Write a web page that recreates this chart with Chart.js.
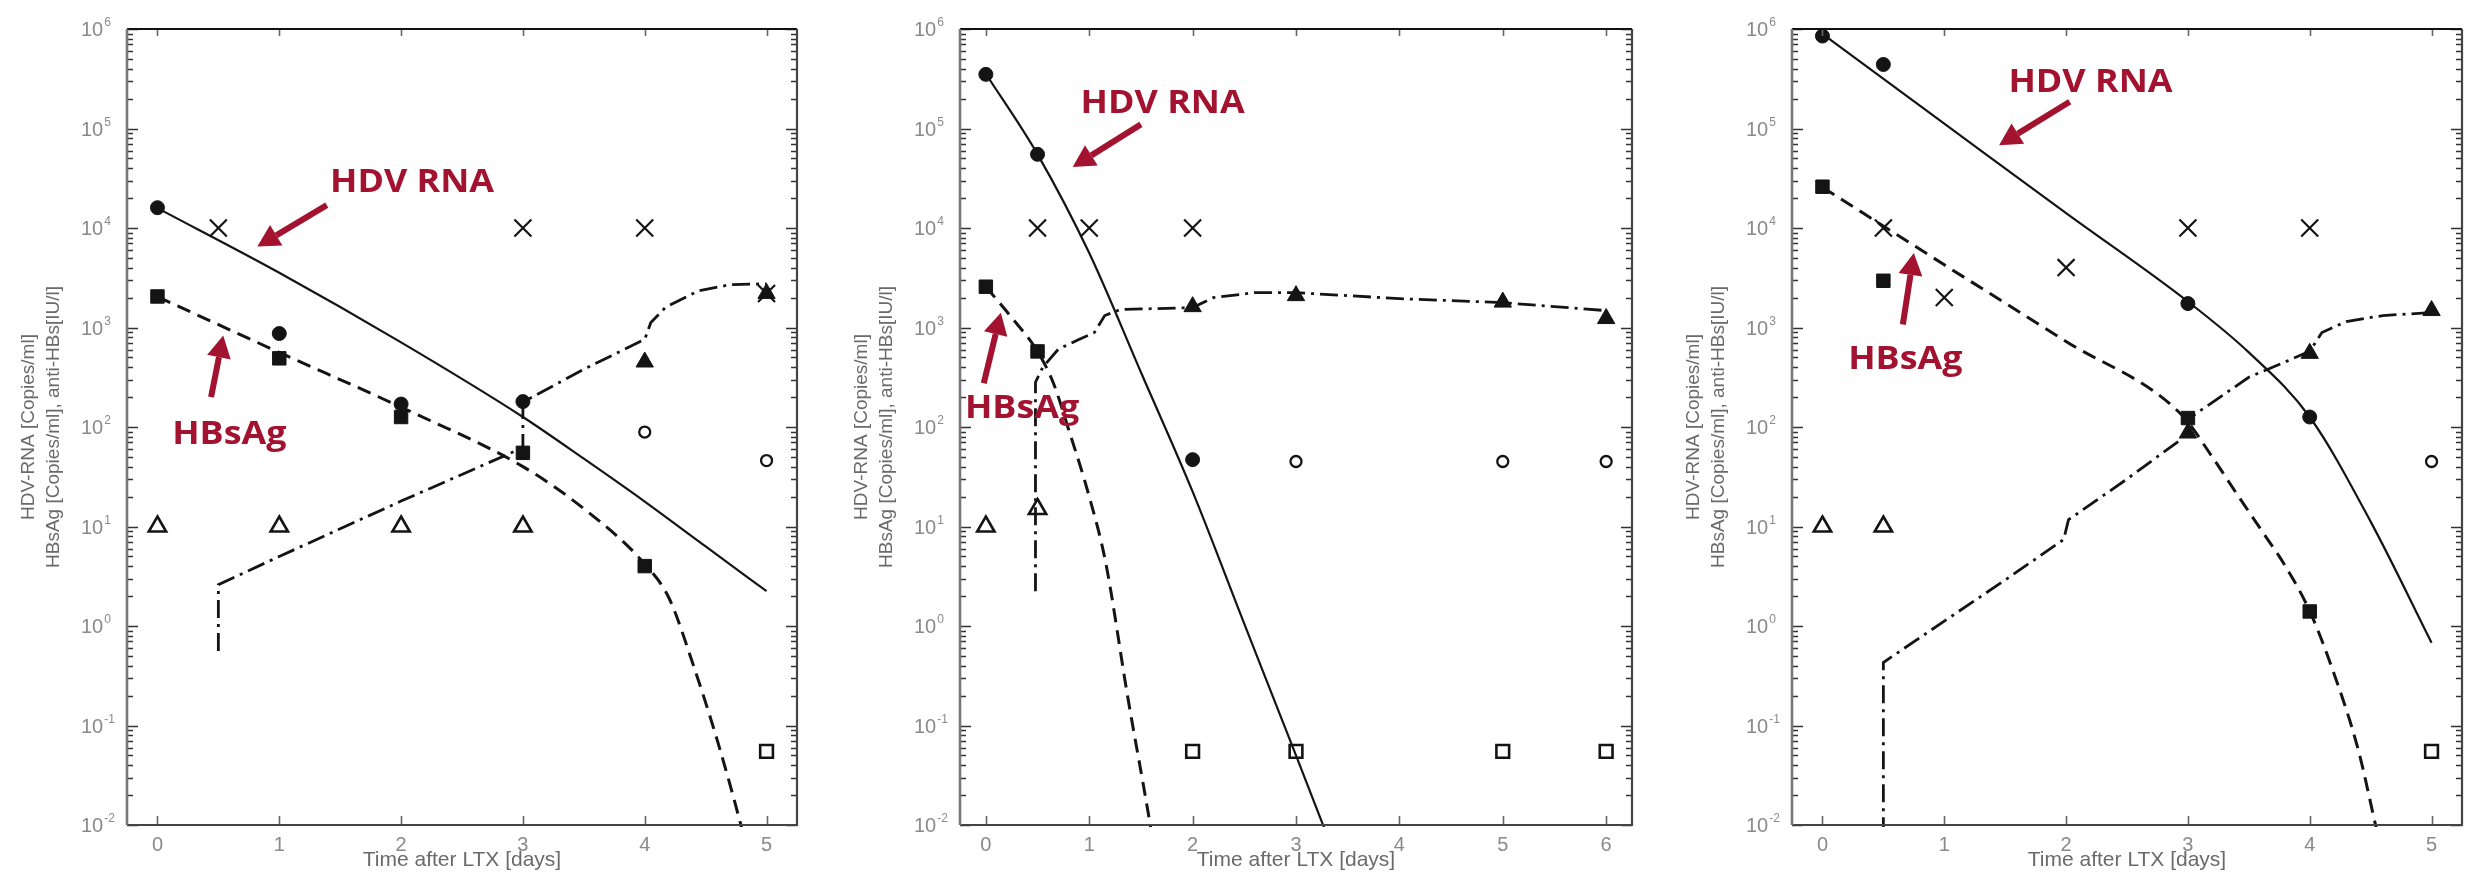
<!DOCTYPE html>
<html>
<head>
<meta charset="utf-8">
<script src="https://cdn.jsdelivr.net/npm/chart.js@4.4.1/dist/chart.umd.min.js"></script>
<style>
  html, body { margin: 0; padding: 0; background: #fff; }
  #wrap { position: relative; width: 2473px; height: 882px; overflow: hidden; }
  #wrap canvas { position: absolute; left: 0; top: 0; }
</style>
</head>
<body>
<div id="wrap">
  <canvas id="left" width="2473" height="882"></canvas>
  <canvas id="mid" width="2473" height="882"></canvas>
  <canvas id="right" width="2473" height="882"></canvas>
</div>
<script>
// ---- left panel (days 0-5)
const aCircDays = [0, 1, 2, 3];
const aCircVals = [16000, 870, 170, 180];
const aSqDays = [0, 1, 2, 3, 4];
const aSqVals = [2050, 490, 126, 55, 4.0];
const aCrossDays = [0.5, 3, 4, 5];
const aCrossVals = [10000, 10000, 10000, 2200];
const aOpenTriDays = [0, 1, 2, 3];
const aOpenTriVals = [10, 10, 10, 10];
const aTriDays = [4, 5];
const aTriVals = [450, 2200];
const aOpenCircDays = [4, 5];
const aOpenCircVals = [89, 46];
const aOpenSqDays = [5];
const aOpenSqVals = [0.055];
const aRnaFitDays = [0, 1, 2, 3, 3.5, 4, 4.5, 5];
const aRnaFit = [15850, 3550, 708, 126, 48, 17.8, 6.3, 2.24];
const aHbsFitDays = [0, 1, 2, 3, 3.5, 4, 4.2, 4.4, 4.6, 4.8, 4.85];
const aHbsFit = [2040, 562, 158, 40, 15.1, 4.2, 1.9, 0.4, 0.068, 0.0089, 0.005];
const aAntiFitDays = [0.5, 0.5, 1, 2, 3, 3, 3.5, 4, 4.05, 4.17, 4.44, 4.7, 5];
const aAntiFit = [0.56, 2.6, 5.0, 18, 62, 178, 380, 760, 1120, 1590, 2340, 2690, 2750];

// ---- middle panel (days 0-6)
const bCircDays = [0, 0.5, 2];
const bCircVals = [350000, 55000, 47];
const bSqDays = [0, 0.5];
const bSqVals = [2570, 575];
const bCrossDays = [0.5, 1, 2];
const bCrossVals = [10000, 10000, 10000];
const bOpenTriDays = [0, 0.5];
const bOpenTriVals = [10, 15];
const bTriDays = [2, 3, 5, 6];
const bTriVals = [1620, 2090, 1800, 1230];
const bOpenCircDays = [3, 5, 6];
const bOpenCircVals = [45, 45, 45];
const bOpenSqDays = [2, 3, 5, 6];
const bOpenSqVals = [0.055, 0.055, 0.055, 0.055];
const bRnaFitDays = [0, 0.5, 1, 1.5, 2, 2.5, 3, 3.3];
const bRnaFit = [355000, 55000, 5600, 355, 22.4, 1.05, 0.05, 0.0079];
const bHbsFitDays = [0, 0.25, 0.5, 0.65, 0.8, 1.0, 1.16, 1.37, 1.59, 1.62];
const bHbsFit = [2570, 1260, 575, 282, 95, 20, 4.3, 0.2, 0.01, 0.0063];
const bAntiFitDays = [0.48, 0.48, 0.55, 0.7, 0.9, 1.05, 1.15, 1.3, 2.0, 2.2, 2.6, 3.0, 4.0, 5.0, 6.0];
const bAntiFit = [2.24, 282, 398, 603, 759, 891, 1318, 1514, 1585, 1995, 2239, 2239, 1950, 1778, 1479];

// ---- right panel (days 0-5)
const cCircDays = [0, 0.5, 3, 4];
const cCircVals = [850000, 440000, 1740, 126];
const cSqDays = [0, 0.5, 3, 4];
const cSqVals = [26000, 2950, 123, 1.4];
const cCrossDays = [0.5, 1, 2, 3, 4];
const cCrossVals = [10000, 2000, 4000, 10000, 10000];
const cOpenTriDays = [0, 0.5];
const cOpenTriVals = [10, 10];
const cTriDays = [3, 4, 5];
const cTriVals = [87, 550, 1480];
const cOpenCircDays = [5];
const cOpenCircVals = [45];
const cOpenSqDays = [5];
const cOpenSqVals = [0.055];
const cRnaFitDays = [0, 1, 2, 3, 3.5, 4, 4.5, 5];
const cRnaFit = [891000, 112000, 14100, 1820, 562, 126, 11.2, 0.68];
const cHbsFitDays = [0, 1, 2, 2.95, 3.2, 3.4, 3.6, 3.8, 4, 4.2, 4.4, 4.55, 4.6];
const cHbsFit = [25700, 4270, 724, 132, 50, 21.4, 9.3, 4.0, 1.41, 0.33, 0.056, 0.0089, 0.005];
const cAntiFitDays = [0.5, 0.5, 1, 1.5, 1.98, 2.02, 2.5, 2.95, 3.05, 3.5, 4, 4.1, 4.3, 4.6, 5];
const cAntiFit = [0.0079, 0.43, 1.12, 2.9, 7.4, 11.7, 30, 76, 132, 316, 575, 891, 1148, 1318, 1413];

// red call-outs, in data coordinates (day, value)
const aNotes = [
  { text: 'HDV RNA', x: 2.09, y: 30000, tail: [1.39, 17000], tip: [0.82, 6500] },
  { text: 'HBsAg', x: 0.59, y: 87, tail: [0.44, 200], tip: [0.54, 830] }
];
const bNotes = [
  { text: 'HDV RNA', x: 1.71, y: 185000, tail: [1.50, 110000], tip: [0.84, 41000] },
  { text: 'HBsAg', x: 0.35, y: 160, tail: [-0.02, 275], tip: [0.145, 1410] }
];
const cNotes = [
  { text: 'HDV RNA', x: 2.2, y: 300000, tail: [2.03, 186000], tip: [1.45, 68000] },
  { text: 'HBsAg', x: 0.68, y: 490, tail: [0.66, 1070], tip: [0.75, 5600] }
];

const INK = '#141414';
const RED = '#a3122f';
const GREY_TXT = '#8a8a8a';
const SANS = '"Liberation Sans", Arial, sans-serif';

function pts(xs, ys) {
  return xs.map((x, i) => ({ x: x, y: ys[i] }));
}

function marks(xs, ys, style, filled, r, bw) {
  return {
    data: pts(xs, ys),
    pointStyle: style,
    pointRadius: r,
    pointBackgroundColor: filled ? INK : 'rgba(0,0,0,0)',
    pointBorderColor: INK,
    pointBorderWidth: bw,
    showLine: false,
    order: 0,
    clip: false
  };
}

// smooth = monotone cubic (only for curves whose x values strictly increase)
function fit(xs, ys, dash, w, smooth) {
  const ds = {
    data: pts(xs, ys),
    showLine: true,
    borderColor: INK,
    borderWidth: w,
    borderDash: dash,
    pointRadius: 0,
    tension: 0,
    order: 1,
    clip: 2
  };
  if (smooth) ds.cubicInterpolationMode = 'monotone';
  return ds;
}

function arrow(ctx, x1, y1, x2, y2) {
  const ang = Math.atan2(y2 - y1, x2 - x1);
  const hl = 22, hw = 12;
  const bx = x2 - hl * Math.cos(ang), by = y2 - hl * Math.sin(ang);
  ctx.lineWidth = 6;
  ctx.beginPath();
  ctx.moveTo(x1, y1);
  ctx.lineTo(bx, by);
  ctx.stroke();
  ctx.beginPath();
  ctx.moveTo(x2, y2);
  ctx.lineTo(bx + hw * Math.sin(ang), by - hw * Math.cos(ang));
  ctx.lineTo(bx - hw * Math.sin(ang), by + hw * Math.cos(ang));
  ctx.closePath();
  ctx.fill();
}

// MATLAB-like box with inward ticks, plus labels and call-outs
function framePlugin(maxDay, notes) {
  return {
    id: 'frame',
    afterDatasetsDraw(chart) {
      const { ctx, chartArea: a, scales: { x, y } } = chart;
      ctx.save();
      ctx.strokeStyle = '#333';
      ctx.lineWidth = 1.6;
      ctx.beginPath();
      for (let e = -2; e <= 6; e++) {
        const py = Math.round(y.getPixelForValue(Math.pow(10, e))) + 0.5;
        ctx.moveTo(a.left, py); ctx.lineTo(a.left + 11, py);
        ctx.moveTo(a.right, py); ctx.lineTo(a.right - 11, py);
        if (e < 6) {
          for (let k = 2; k <= 9; k++) {
            const my = Math.round(y.getPixelForValue(k * Math.pow(10, e))) + 0.5;
            ctx.moveTo(a.left, my); ctx.lineTo(a.left + 6, my);
            ctx.moveTo(a.right, my); ctx.lineTo(a.right - 6, my);
          }
        }
      }
      ctx.stroke();

      ctx.strokeStyle = '#666';
      ctx.beginPath();
      for (let d = 0; d <= maxDay; d++) {
        const px = Math.round(x.getPixelForValue(d)) + 0.5;
        ctx.moveTo(px, a.bottom); ctx.lineTo(px, a.bottom - 9);
        ctx.moveTo(px, a.top); ctx.lineTo(px, a.top + 7);
      }
      ctx.stroke();

      // box
      ctx.lineWidth = 2.2;
      ctx.strokeStyle = '#111';
      ctx.beginPath(); ctx.moveTo(a.left, a.top); ctx.lineTo(a.right, a.top); ctx.stroke();
      ctx.strokeStyle = '#444';
      ctx.beginPath(); ctx.moveTo(a.right, a.top); ctx.lineTo(a.right, a.bottom); ctx.lineTo(a.left, a.bottom); ctx.stroke();
      ctx.strokeStyle = '#777';
      ctx.lineWidth = 2.6;
      ctx.beginPath(); ctx.moveTo(a.left, a.top); ctx.lineTo(a.left, a.bottom); ctx.stroke();

      // y tick labels 10^n
      ctx.fillStyle = GREY_TXT;
      ctx.textAlign = 'left';
      ctx.textBaseline = 'alphabetic';
      for (let e = -2; e <= 6; e++) {
        const py = y.getPixelForValue(Math.pow(10, e));
        ctx.font = '20px ' + SANS;
        ctx.fillText('10', a.left - 46, py + 7);
        const w = ctx.measureText('10').width;
        ctx.font = '12px ' + SANS;
        ctx.fillText(String(e), a.left - 46 + w + 1, py - 3);
      }

      // x tick labels
      ctx.font = '20px ' + SANS;
      ctx.textAlign = 'center';
      for (let d = 0; d <= maxDay; d++) {
        ctx.fillText(String(d), x.getPixelForValue(d), a.bottom + 26);
      }

      // axis titles
      ctx.fillStyle = '#6a6a6a';
      ctx.font = '21px ' + SANS;
      ctx.fillText('Time after LTX [days]', (a.left + a.right) / 2, a.bottom + 41);
      const yc = (a.top + a.bottom) / 2;
      ctx.font = '19px ' + SANS;
      ctx.save();
      ctx.translate(a.left - 93, yc);
      ctx.rotate(-Math.PI / 2);
      ctx.fillText('HDV-RNA [Copies/ml]', 0, 0);
      ctx.restore();
      ctx.save();
      ctx.translate(a.left - 68, yc);
      ctx.rotate(-Math.PI / 2);
      ctx.fillText('HBsAg [Copies/ml], anti-HBs[IU/l]', 0, 0);
      ctx.restore();
      ctx.restore();
    },
    afterDraw(chart) {
      const { ctx, scales: { x, y } } = chart;
      ctx.save();
      ctx.fillStyle = RED;
      ctx.strokeStyle = RED;
      notes.forEach(n => {
        arrow(ctx, x.getPixelForValue(n.tail[0]), y.getPixelForValue(n.tail[1]),
          x.getPixelForValue(n.tip[0]), y.getPixelForValue(n.tip[1]));
        ctx.save();
        ctx.translate(x.getPixelForValue(n.x), y.getPixelForValue(n.y));
        ctx.scale(1.12, 1);
        ctx.font = 'bold 32px "Open Sans", sans-serif';
        ctx.textAlign = 'center';
        ctx.textBaseline = 'alphabetic';
        ctx.fillText(n.text, 0, 11);
        ctx.restore();
      });
      ctx.restore();
    }
  };
}

function makePanel(id, area, maxDay, xMax, d, notes) {
  return new Chart(document.getElementById(id), {
    type: 'scatter',
    data: {
      datasets: [
        marks(d.circDays, d.circVals, 'circle', true, 7, 1),
        marks(d.sqDays, d.sqVals, 'rect', true, 9.5, 1),
        marks(d.crossDays, d.crossVals, 'crossRot', false, 12, 2.2),
        marks(d.openTriDays, d.openTriVals, 'triangle', false, 10, 2.6),
        marks(d.triDays, d.triVals, 'triangle', true, 10, 1),
        marks(d.openCircDays, d.openCircVals, 'circle', false, 5.5, 2.3),
        marks(d.openSqDays, d.openSqVals, 'rect', false, 9, 2.6),
        fit(d.rnaDays, d.rna, [], 2.2, true),
        fit(d.hbsDays, d.hbs, [14, 8], 3, true),
        fit(d.antiDays, d.anti, [18, 6, 3, 6], 2.8, false)
      ]
    },
    options: {
      responsive: false,
      animation: false,
      events: [],
      layout: { autoPadding: false, padding: { left: area[0], right: 2473 - area[1], top: 29, bottom: 882 - 825 } },
      plugins: { legend: { display: false }, tooltip: { enabled: false } },
      scales: {
        x: { type: 'linear', min: -0.25, max: xMax, display: false },
        y: { type: 'logarithmic', min: 0.01, max: 1e6, display: false }
      }
    },
    plugins: [framePlugin(maxDay, notes)]
  });
}

makePanel('left', [127, 797], 5, 5.25, {
  circDays: aCircDays, circVals: aCircVals, sqDays: aSqDays, sqVals: aSqVals,
  crossDays: aCrossDays, crossVals: aCrossVals, openTriDays: aOpenTriDays, openTriVals: aOpenTriVals,
  triDays: aTriDays, triVals: aTriVals, openCircDays: aOpenCircDays, openCircVals: aOpenCircVals,
  openSqDays: aOpenSqDays, openSqVals: aOpenSqVals,
  rnaDays: aRnaFitDays, rna: aRnaFit, hbsDays: aHbsFitDays, hbs: aHbsFit, antiDays: aAntiFitDays, anti: aAntiFit
}, aNotes);

makePanel('mid', [960, 1632], 6, 6.25, {
  circDays: bCircDays, circVals: bCircVals, sqDays: bSqDays, sqVals: bSqVals,
  crossDays: bCrossDays, crossVals: bCrossVals, openTriDays: bOpenTriDays, openTriVals: bOpenTriVals,
  triDays: bTriDays, triVals: bTriVals, openCircDays: bOpenCircDays, openCircVals: bOpenCircVals,
  openSqDays: bOpenSqDays, openSqVals: bOpenSqVals,
  rnaDays: bRnaFitDays, rna: bRnaFit, hbsDays: bHbsFitDays, hbs: bHbsFit, antiDays: bAntiFitDays, anti: bAntiFit
}, bNotes);

makePanel('right', [1792, 2462], 5, 5.25, {
  circDays: cCircDays, circVals: cCircVals, sqDays: cSqDays, sqVals: cSqVals,
  crossDays: cCrossDays, crossVals: cCrossVals, openTriDays: cOpenTriDays, openTriVals: cOpenTriVals,
  triDays: cTriDays, triVals: cTriVals, openCircDays: cOpenCircDays, openCircVals: cOpenCircVals,
  openSqDays: cOpenSqDays, openSqVals: cOpenSqVals,
  rnaDays: cRnaFitDays, rna: cRnaFit, hbsDays: cHbsFitDays, hbs: cHbsFit, antiDays: cAntiFitDays, anti: cAntiFit
}, cNotes);
</script>
</body>
</html>
